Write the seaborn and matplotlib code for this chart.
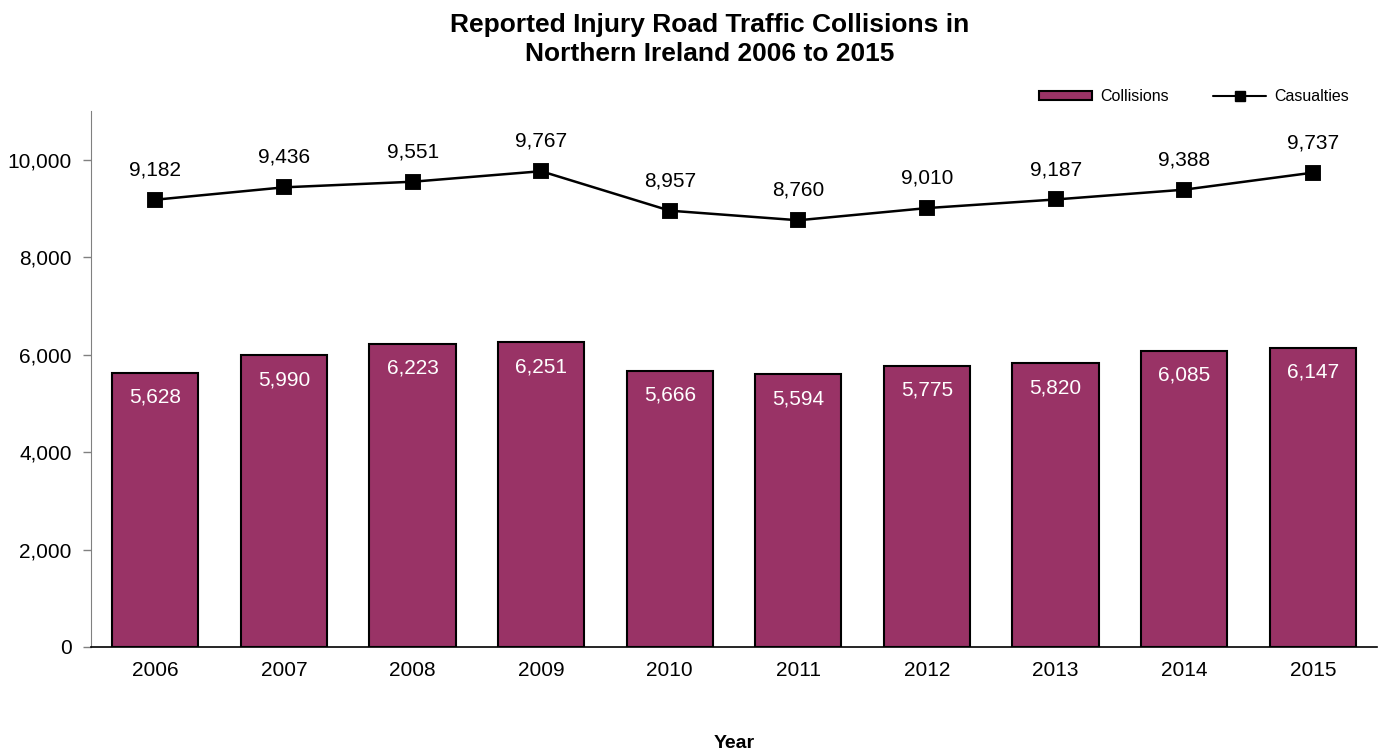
# Injury road traffic collisions and casualties, Northern Ireland 2006-2015

import matplotlib
matplotlib.use('Agg')
import matplotlib.pyplot as plt
from matplotlib.lines import Line2D
from matplotlib.patches import Patch
from matplotlib.ticker import FuncFormatter, FixedLocator
import pandas as pd
import seaborn as sns

years = ['2006', '2007', '2008', '2009', '2010', '2011', '2012', '2013', '2014', '2015']
collisions = [5628, 5990, 6223, 6251, 5666, 5594, 5775, 5820, 6085, 6147]
casualties = [9182, 9436, 9551, 9767, 8957, 8760, 9010, 9187, 9388, 9737]

BAR_COLOR = '#993366'

sns.set_style('white')
plt.rcParams['font.family'] = ['Liberation Sans', 'DejaVu Sans']
plt.rcParams['text.color'] = 'black'
plt.rcParams['xtick.color'] = 'black'
plt.rcParams['ytick.color'] = 'black'
plt.rcParams['axes.labelcolor'] = 'black'

df = pd.DataFrame({'Year': years, 'Collisions': collisions, 'Casualties': casualties})

fig = plt.figure(figsize=(13.84, 7.51), dpi=100)
ax = fig.add_axes([0.0658, 0.1385, 0.9292, 0.7135])

# bars for collisions
sns.barplot(data=df, x='Year', y='Collisions', color=BAR_COLOR, width=0.67,
            edgecolor='black', linewidth=1.5, saturation=1, ax=ax)

# line for casualties
sns.pointplot(data=df, x='Year', y='Casualties', color='black', marker='s',
              markersize=10, linewidth=1.8, ax=ax)

# value labels
for i, v in enumerate(collisions):
    ax.annotate(f'{v:,}', (i, v), xytext=(0, -17.5), textcoords='offset points',
                ha='center', va='center', color='white', fontsize=15)
for i, v in enumerate(casualties):
    ax.annotate(f'{v:,}', (i, v), xytext=(0, 21.5), textcoords='offset points',
                ha='center', va='center', color='black', fontsize=15)

ax.set_xlim(-0.5, len(years) - 0.5)
ax.set_ylim(0, 11000)
ax.set_yticks([0, 2000, 4000, 6000, 8000, 10000])
ax.yaxis.set_major_formatter(FuncFormatter(lambda v, p: f'{int(v):,}'))

# ticks between categories on x axis
ax.xaxis.set_minor_locator(FixedLocator([i - 0.5 for i in range(len(years) + 1)]))
ax.tick_params(axis='x', which='major', length=0, labelsize=15, pad=10)
ax.tick_params(axis='x', which='minor', length=6, width=1, color='#808080', direction='out')
ax.tick_params(axis='y', which='major', length=6, width=1, color='#808080',
               direction='out', left=True, labelsize=15, pad=8, labelcolor='black')

for side in ['top', 'right']:
    ax.spines[side].set_visible(False)
ax.spines['left'].set_color('#808080')
ax.spines['bottom'].set_color('black')
ax.spines['bottom'].set_linewidth(1.2)

ax.set_xlabel('Year', fontsize=14, fontweight='bold', labelpad=40)
ax.set_ylabel('')

fig.suptitle('Reported Injury Road Traffic Collisions in\nNorthern Ireland 2006 to 2015',
             fontsize=19, fontweight='bold', x=0.513, y=0.983, linespacing=1.25)

handles = [
    Patch(facecolor=BAR_COLOR, edgecolor='black', linewidth=1.5, label='Collisions'),
    Line2D([0], [0], color='black', marker='s', markersize=7, linewidth=1.5, label='Casualties'),
]
fig.legend(handles=handles, loc='center right', bbox_to_anchor=(0.985, 0.871),
           ncol=2, frameon=False, fontsize=11.5, handlelength=3.3, handleheight=0.5,
           columnspacing=2.8, handletextpad=0.5)

fig.savefig('out.png', dpi=100)
